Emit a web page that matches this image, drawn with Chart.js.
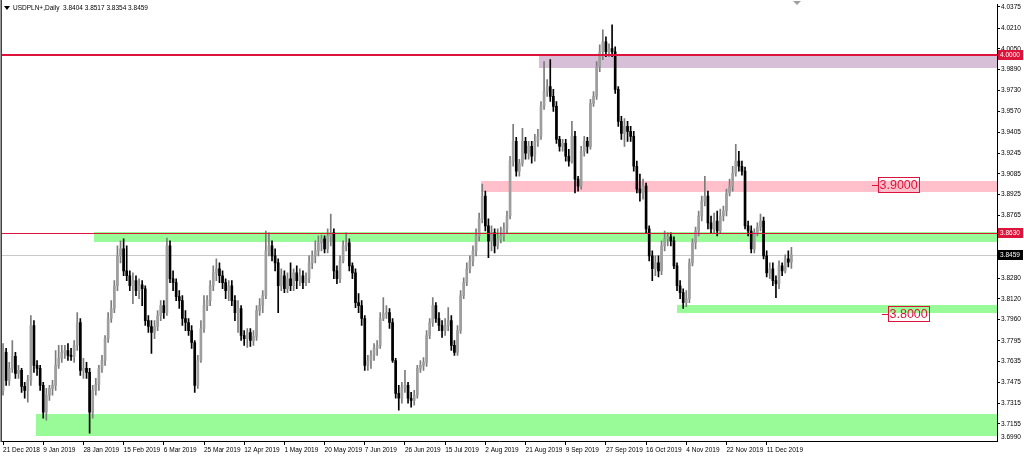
<!DOCTYPE html>
<html><head><meta charset="utf-8">
<script src="https://cdn.jsdelivr.net/npm/chart.js@4/dist/chart.umd.min.js"></script>
<style>html,body{margin:0;padding:0;background:#fff;overflow:hidden}canvas{display:block}</style>
</head><body><canvas id="c" width="1024" height="459"></canvas>
<script>
const symbolTitle = 'USDPLN+,Daily';
const lastQuote = [3.8404, 3.8517, 3.8354, 3.8459];

const opens = [
3.7413,3.7706,3.7490,3.7583,3.7675,3.7544,3.7567,3.7444,3.7413,3.7490,
3.7914,3.7606,3.7583,3.7452,3.7244,3.7375,3.7429,3.7452,3.7606,3.7660,
3.7706,3.7721,3.7683,3.7675,3.7760,3.7937,3.7567,3.7583,3.7552,3.7244,
3.7413,3.7459,3.7583,3.7644,3.7813,3.7968,3.8045,3.8221,3.8452,3.8506,
3.8336,3.8298,3.8221,3.8260,3.8183,3.8229,3.8198,3.7952,3.7906,3.7860,
3.7906,3.7991,3.8068,3.8014,3.8529,3.8275,3.8245,3.8137,3.8106,3.7968,
3.7937,3.7875,3.7783,3.7452,3.7644,3.7891,3.8068,3.8106,3.8221,3.8321,
3.8352,3.8298,3.8245,3.8183,3.8221,3.8106,3.8014,3.8045,3.7837,3.7813,
3.7860,3.7798,3.7829,3.8029,3.8068,3.8145,3.8490,3.8529,3.8452,3.8398,
3.8221,3.8298,3.8198,3.8275,3.8221,3.8321,3.8260,3.8298,3.8245,3.8275,
3.8398,3.8452,3.8490,3.8552,3.8583,3.8506,3.8606,3.8629,3.8336,3.8275,
3.8413,3.8529,3.8552,3.8375,3.8321,3.8091,3.8068,3.7968,3.7606,3.7644,
3.7683,3.7737,3.7760,3.7968,3.8006,3.8014,3.7937,3.7644,3.7390,3.7352,
3.7436,3.7452,3.7352,3.7336,3.7375,3.7583,3.7606,3.7629,3.7837,3.7937,
3.8068,3.7968,3.7914,3.7875,3.7914,3.7952,3.7760,3.7706,3.7875,3.8145,
3.8245,3.8352,3.8413,3.8490,3.8606,3.8737,3.8914,3.8683,3.8567,3.8629,
3.8529,3.8583,3.8606,3.8660,3.8760,3.9183,3.9336,3.9106,3.9167,3.9336,
3.9244,3.9298,3.9221,3.9336,3.9375,3.9606,3.9721,3.9760,3.9683,3.9606,
3.9352,3.9298,3.9321,3.9221,3.9183,3.9375,3.9044,3.8990,3.9260,3.9336,
3.9298,3.9629,3.9683,3.9913,4.0028,4.0105,4.0028,4.0052,4.0028,3.9737,
3.9490,3.9398,3.9452,3.9413,3.9375,3.9144,3.8967,3.8937,3.8990,3.8660,
3.8452,3.8352,3.8398,3.8336,3.8529,3.8583,3.8598,3.8567,3.8375,3.8221,
3.8168,3.8091,3.8121,3.8398,3.8552,3.8644,3.8760,3.8875,3.8914,3.8706,
3.8660,3.8721,3.8644,3.8760,3.8798,3.8937,3.8990,3.9090,3.9183,3.9144,
3.9106,3.8683,3.8644,3.8506,3.8629,3.8675,3.8721,3.8452,3.8321,3.8352,
3.8260,3.8237,3.8375,3.8336,3.8429,3.8404];

const highs = [
3.7775,3.7737,3.7629,3.7798,3.7706,3.7606,3.7583,3.7475,3.7529,3.7991,
3.7952,3.7644,3.7606,3.7475,3.7429,3.7452,3.7490,3.7721,3.7760,3.7760,
3.7760,3.7775,3.7737,3.7798,3.8014,3.7968,3.7660,3.7629,3.7583,3.7452,
3.7506,3.7606,3.7683,3.7837,3.8014,3.8106,3.8260,3.8529,3.8567,3.8583,
3.8529,3.8336,3.8321,3.8298,3.8275,3.8260,3.8221,3.7991,3.7952,3.7952,
3.8029,3.8106,3.8106,3.8590,3.8567,3.8336,3.8275,3.8183,3.8145,3.8029,
3.7968,3.7914,3.7798,3.7683,3.7952,3.8145,3.8145,3.8260,3.8375,3.8429,
3.8398,3.8336,3.8275,3.8260,3.8260,3.8145,3.8106,3.8068,3.7875,3.7891,
3.7891,3.7875,3.8068,3.8121,3.8183,3.8644,3.8629,3.8567,3.8506,3.8429,
3.8352,3.8336,3.8321,3.8398,3.8352,3.8375,3.8352,3.8336,3.8321,3.8452,
3.8490,3.8567,3.8606,3.8613,3.8606,3.8660,3.8775,3.8660,3.8375,3.8452,
3.8567,3.8629,3.8583,3.8398,3.8352,3.8160,3.8106,3.7991,3.7683,3.7721,
3.7775,3.7798,3.8014,3.8129,3.8068,3.8045,3.7968,3.7660,3.7452,3.7475,
3.7567,3.7475,3.7398,3.7413,3.7606,3.7644,3.7667,3.7875,3.7968,3.8129,
3.8091,3.8014,3.7952,3.7968,3.8052,3.7991,3.7798,3.7914,3.8183,3.8283,
3.8398,3.8452,3.8529,3.8660,3.8783,3.9006,3.8952,3.8737,3.8683,3.8660,
3.8660,3.8675,3.8706,3.8798,3.9221,3.9467,3.9367,3.9198,3.9436,3.9367,
3.9336,3.9336,3.9390,3.9429,3.9644,3.9952,3.9813,3.9967,3.9737,3.9644,
3.9375,3.9352,3.9352,3.9275,3.9490,3.9413,3.9067,3.9298,3.9375,3.9367,
3.9660,3.9721,3.9952,4.0082,4.0198,4.0144,4.0090,4.0236,4.0067,3.9760,
3.9529,3.9513,3.9490,3.9452,3.9413,3.9183,3.9083,3.9044,3.9014,3.8683,
3.8490,3.8452,3.8452,3.8567,3.8644,3.8629,3.8629,3.8598,3.8398,3.8260,
3.8198,3.8183,3.8429,3.8583,3.8675,3.8798,3.8914,3.9067,3.8952,3.8760,
3.8783,3.8798,3.8813,3.8837,3.8967,3.9044,3.9144,3.9313,3.9260,3.9183,
3.9137,3.8721,3.8683,3.8660,3.8706,3.8775,3.8752,3.8490,3.8398,3.8398,
3.8298,3.8413,3.8398,3.8460,3.8490,3.8517];

const lows = [
3.7375,3.7452,3.7452,3.7552,3.7506,3.7506,3.7398,3.7352,3.7321,3.7452,
3.7552,3.7529,3.7413,3.7198,3.7183,3.7336,3.7375,3.7413,3.7583,3.7629,
3.7660,3.7644,3.7644,3.7629,3.7721,3.7529,3.7506,3.7506,3.7083,3.7198,
3.7375,3.7413,3.7552,3.7606,3.7783,3.7937,3.8014,3.8183,3.8398,3.8298,
3.8260,3.8183,3.8083,3.8145,3.8121,3.8068,3.7914,3.7860,3.7698,3.7813,
3.7875,3.7952,3.7968,3.7991,3.8245,3.8183,3.8106,3.8045,3.7914,3.7875,
3.7837,3.7737,3.7398,3.7429,3.7629,3.7860,3.8029,3.8068,3.8183,3.8260,
3.8245,3.8198,3.8121,3.8106,3.8068,3.7952,3.7860,3.7798,3.7760,3.7744,
3.7752,3.7760,3.7798,3.7991,3.8014,3.8121,3.8452,3.8413,3.8336,3.8014,
3.8183,3.8168,3.8168,3.8183,3.8183,3.8198,3.8221,3.8198,3.8221,3.8245,
3.8352,3.8398,3.8452,3.8490,3.8475,3.8475,3.8529,3.8275,3.8237,3.8245,
3.8398,3.8490,3.8336,3.8275,3.8052,3.8014,3.7914,3.7567,3.7567,3.7583,
3.7644,3.7683,3.7737,3.7952,3.7968,3.7891,3.7629,3.7352,3.7260,3.7314,
3.7398,3.7314,3.7283,3.7298,3.7352,3.7552,3.7567,3.7598,3.7813,3.7906,
3.7937,3.7875,3.7821,3.7837,3.7875,3.7721,3.7683,3.7683,3.7852,3.8121,
3.8221,3.8321,3.8375,3.8452,3.8567,3.8706,3.8644,3.8437,3.8490,3.8475,
3.8506,3.8552,3.8567,3.8629,3.8737,3.9144,3.9067,3.9067,3.9144,3.9198,
3.9198,3.9167,3.9183,3.9298,3.9352,3.9583,3.9683,3.9644,3.9567,3.9321,
3.9260,3.9260,3.9183,3.9144,3.9167,3.8937,3.8952,3.8967,3.9221,3.9244,
3.9275,3.9606,3.9660,3.9875,3.9967,3.9990,3.9990,3.9990,3.9706,3.9452,
3.9352,3.9298,3.9336,3.9336,3.9106,3.8937,3.8875,3.8890,3.8629,3.8413,
3.8260,3.8298,3.8290,3.8306,3.8490,3.8529,3.8529,3.8352,3.8183,3.8121,
3.8045,3.8060,3.8091,3.8375,3.8506,3.8606,3.8721,3.8837,3.8660,3.8629,
3.8629,3.8606,3.8629,3.8721,3.8760,3.8914,3.8952,3.9067,3.9106,3.9075,
3.8660,3.8606,3.8475,3.8475,3.8606,3.8644,3.8429,3.8290,3.8275,3.8221,
3.8129,3.8198,3.8298,3.8321,3.8367,3.8354];

const closes = [
3.7721,3.7490,3.7583,3.7675,3.7544,3.7567,3.7444,3.7413,3.7490,3.7914,
3.7606,3.7583,3.7452,3.7244,3.7375,3.7429,3.7452,3.7606,3.7660,3.7706,
3.7721,3.7683,3.7675,3.7760,3.7937,3.7567,3.7583,3.7552,3.7244,3.7413,
3.7459,3.7583,3.7644,3.7813,3.7968,3.8045,3.8221,3.8452,3.8506,3.8336,
3.8298,3.8221,3.8260,3.8183,3.8229,3.8198,3.7952,3.7906,3.7860,3.7906,
3.7991,3.8068,3.8014,3.8529,3.8275,3.8245,3.8137,3.8106,3.7968,3.7937,
3.7875,3.7783,3.7452,3.7644,3.7891,3.8068,3.8106,3.8221,3.8321,3.8352,
3.8298,3.8245,3.8183,3.8221,3.8106,3.8014,3.8045,3.7837,3.7813,3.7860,
3.7798,3.7829,3.8029,3.8068,3.8145,3.8490,3.8529,3.8452,3.8398,3.8221,
3.8298,3.8198,3.8275,3.8221,3.8321,3.8260,3.8298,3.8245,3.8275,3.8398,
3.8452,3.8490,3.8552,3.8583,3.8506,3.8606,3.8629,3.8336,3.8275,3.8413,
3.8529,3.8552,3.8375,3.8321,3.8091,3.8068,3.7968,3.7606,3.7644,3.7683,
3.7737,3.7760,3.7968,3.8006,3.8014,3.7937,3.7644,3.7390,3.7352,3.7436,
3.7452,3.7352,3.7336,3.7375,3.7583,3.7606,3.7629,3.7837,3.7937,3.8068,
3.7968,3.7914,3.7875,3.7914,3.7952,3.7760,3.7706,3.7875,3.8145,3.8245,
3.8352,3.8413,3.8490,3.8606,3.8737,3.8914,3.8683,3.8567,3.8629,3.8529,
3.8583,3.8606,3.8660,3.8760,3.9183,3.9336,3.9106,3.9167,3.9336,3.9244,
3.9298,3.9221,3.9336,3.9375,3.9606,3.9721,3.9760,3.9683,3.9606,3.9352,
3.9298,3.9321,3.9221,3.9183,3.9375,3.9044,3.8990,3.9260,3.9336,3.9298,
3.9629,3.9683,3.9913,4.0028,4.0105,4.0028,4.0052,4.0028,3.9737,3.9490,
3.9398,3.9452,3.9413,3.9375,3.9144,3.8967,3.8937,3.8990,3.8660,3.8452,
3.8352,3.8398,3.8336,3.8529,3.8583,3.8598,3.8567,3.8375,3.8221,3.8168,
3.8091,3.8121,3.8398,3.8552,3.8644,3.8760,3.8875,3.8914,3.8706,3.8660,
3.8721,3.8644,3.8760,3.8798,3.8937,3.8990,3.9090,3.9183,3.9144,3.9106,
3.8683,3.8644,3.8506,3.8629,3.8675,3.8721,3.8452,3.8321,3.8352,3.8260,
3.8237,3.8375,3.8336,3.8429,3.8404,3.8459];

const barSlots = 322;
const barsPerLabel = 13;
const dateLabels = ['21 Dec 2018','9 Jan 2019','28 Jan 2019','15 Feb 2019','6 Mar 2019','25 Mar 2019',
  '12 Apr 2019','1 May 2019','20 May 2019','7 Jun 2019','26 Jun 2019','15 Jul 2019','2 Aug 2019',
  '21 Aug 2019','9 Sep 2019','27 Sep 2019','16 Oct 2019','4 Nov 2019','22 Nov 2019','11 Dec 2019'];
const priceTicks = [4.0375,4.0210,4.0050,3.9890,3.9730,3.9570,3.9405,3.9245,3.9085,3.8925,3.8765,
  3.8600,3.8440,3.8280,3.8120,3.7960,3.7795,3.7635,3.7475,3.7315,3.7155];
const bottomTick = 3.6990;

// rectangles (price zones)
const zoneTops    = [4.0013, 3.9033, 3.8633, 3.8073, 3.7229];
const zoneBottoms = [3.9905, 3.8948, 3.8562, 3.8008, 3.7062];
const zoneStarts  = [173.4, 154.6, 29.4, 218.1, 10.66];
const zoneColors  = ['#D8BFD8', '#FFC0CB', '#98FB98', '#98FB98', '#98FB98'];
// horizontal lines
const levelValues = [4.0000, 3.8630];
const levelWidths = [2, 1];
const bidValue = 3.8459;
// text labels
const textValues = [3.9000, 3.8000];
const textStarts = [283.0, 286.2];
// axis markers
const markerValues = [4.0000, 3.8630, 3.8459];
const markerColors = ['#DC143C', '#DC143C', '#000000'];

const categories = Array.from({length: barSlots}, (_, i) => i);
const upBody = '#9e9e9e', upWick = '#7c7c7c', downColor = '#000000';
const isUp = closes.map((c, i) => c >= opens[i]);
const FONT = 'Liberation Sans';

const overlay = {
  id: 'overlay',
  beforeDatasetsDraw(chart) {
    const {ctx, chartArea: a, scales: {x, y}} = chart;
    ctx.save();
    ctx.beginPath(); ctx.rect(a.left, a.top, a.right - a.left, a.bottom - a.top); ctx.clip();
    zoneTops.forEach((t, i) => {
      const x0 = x.getPixelForValue(zoneStarts[i]);
      const y0 = y.getPixelForValue(t), y1 = y.getPixelForValue(zoneBottoms[i]);
      ctx.fillStyle = zoneColors[i];
      ctx.fillRect(Math.round(x0), Math.round(y0), a.right - Math.round(x0), Math.round(y1) - Math.round(y0));
    });
    const by = Math.round(y.getPixelForValue(bidValue)) + 0.5;
    ctx.strokeStyle = '#c8c8c8'; ctx.lineWidth = 1;
    ctx.beginPath(); ctx.moveTo(a.left, by); ctx.lineTo(a.right, by); ctx.stroke();
    ctx.restore();
  },
  afterDatasetsDraw(chart) {
    const {ctx, chartArea: a, scales: {x, y}} = chart;
    ctx.save();
    levelValues.forEach((v, i) => {
      const w = levelWidths[i];
      let py = Math.round(y.getPixelForValue(v));
      if (w % 2) py += 0.5;
      ctx.strokeStyle = '#DC143C'; ctx.lineWidth = w;
      ctx.beginPath(); ctx.moveTo(a.left, py); ctx.lineTo(a.right, py); ctx.stroke();
    });
    ctx.font = '12.5px ' + FONT;
    ctx.textBaseline = 'middle';
    textValues.forEach((v, i) => {
      const px = Math.round(x.getPixelForValue(textStarts[i]));
      const py = Math.round(y.getPixelForValue(v));
      const label = v.toFixed(4);
      const w = Math.ceil(ctx.measureText(label).width) + 2;
      ctx.strokeStyle = '#DC143C'; ctx.lineWidth = 1;
      ctx.strokeRect(px + 0.5, py - 7.5, w, 15);
      ctx.beginPath(); ctx.moveTo(px - 6, py + 0.5); ctx.lineTo(px, py + 0.5); ctx.stroke();
      ctx.fillStyle = '#DC143C';
      ctx.fillText(label, px + 1.5, py + 1);
    });
    ctx.restore();
  },
  afterDraw(chart) {
    const {ctx, chartArea: a, scales: {y}} = chart;
    ctx.save();
    ctx.font = '6.5px ' + FONT;
    ctx.textBaseline = 'middle';
    // bottom price label
    ctx.fillStyle = '#000';
    ctx.fillText(bottomTick.toFixed(4), a.right + 4, a.bottom - 4);
    markerValues.forEach((v, i) => {
      const py = Math.round(y.getPixelForValue(v));
      ctx.fillStyle = markerColors[i];
      ctx.fillRect(a.right + 1, py - 5, 25, 10);
      ctx.fillStyle = '#fff';
      ctx.fillText(v.toFixed(4), a.right + 3, py + 0.5);
    });
    // left frame
    ctx.fillStyle = '#9a9a9a'; ctx.fillRect(0, 0, 1, a.bottom + 1);
    ctx.fillStyle = '#404040'; ctx.fillRect(1, 0, 1, a.bottom + 1);
    // shift marker
    ctx.fillStyle = '#a0a0a0';
    ctx.beginPath(); ctx.moveTo(793, 1); ctx.lineTo(801, 1); ctx.lineTo(797, 5); ctx.closePath(); ctx.fill();
    // title
    ctx.fillStyle = '#000';
    ctx.beginPath(); ctx.moveTo(4, 6); ctx.lineTo(10, 6); ctx.lineTo(7, 10); ctx.closePath(); ctx.fill();
    ctx.font = '6.5px ' + FONT;
    ctx.fillText(symbolTitle + '  ' + lastQuote.map(v => v.toFixed(4)).join(' '), 13, 8);
    ctx.restore();
  }
};

new Chart(document.getElementById('c'), {
  type: 'bar',
  data: {
    labels: categories,
    datasets: [
      {
        label: 'wick',
        data: lows.map((l, i) => [l, highs[i]]),
        backgroundColor: isUp.map(u => u ? upWick : downColor),
        barThickness: 1, grouped: false, order: 2, borderWidth: 0
      },
      {
        label: 'body',
        data: opens.map((o, i) => [o, closes[i]]),
        backgroundColor: isUp.map(u => u ? upBody : downColor),
        barThickness: 2, minBarLength: 1, grouped: false, order: 1, borderWidth: 0
      }
    ]
  },
  options: {
    responsive: false, animation: false, devicePixelRatio: 1,
    layout: {padding: {left: 1.5, top: 3, right: 0, bottom: 0}},
    plugins: {legend: {display: false}, tooltip: {enabled: false}},
    scales: {
      x: {
        type: 'category', offset: true,
        grid: {display: true, drawOnChartArea: false, drawTicks: true, tickLength: 4, color: '#000', offset: false},
        border: {display: true, color: '#000'},
        ticks: {autoSkip: false, maxRotation: 0, minRotation: 0, align: 'start', padding: 1,
          font: {family: FONT, size: 6.5}, color: '#000',
          callback: v => dateLabels[v / barsPerLabel]},
        afterBuildTicks: s => { s.ticks = s.ticks.filter(t => t.value % barsPerLabel === 0 && t.value / barsPerLabel < dateLabels.length); },
        afterFit: s => { s.height = 18; }
      },
      y: {
        position: 'right', min: 3.7022, max: 4.0390,
        grid: {display: true, drawOnChartArea: false, drawTicks: true, tickLength: 3, color: '#000'},
        border: {display: true, color: '#000'},
        ticks: {autoSkip: false, padding: 1, font: {family: FONT, size: 6.5}, color: '#000',
          callback: v => Number(v).toFixed(4)},
        afterBuildTicks: s => { s.ticks = priceTicks.filter(p => p >= s.min && p <= s.max).map(v => ({value: v})); },
        afterFit: s => { s.width = 27; }
      }
    }
  },
  plugins: [overlay]
});
</script>
</body></html>
